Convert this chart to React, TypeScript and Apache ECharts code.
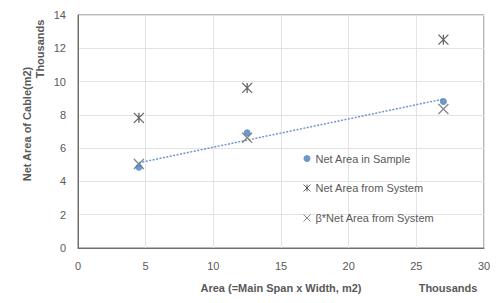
import React, { useEffect, useRef } from "react";
import * as echarts from "echarts";

const xCategories = [4.5, 12.5, 27];
const sampleValues = [4.85, 6.93, 8.8];
const systemValues = [7.82, 9.62, 12.52];
const betaValues = [5.05, 6.62, 8.35];
const trendX = [4.5, 27];
const trendY = [5.12, 8.95];
const xTicks = [0, 5, 10, 15, 20, 25, 30];
const yTicks = [0, 2, 4, 6, 8, 10, 12, 14];

const ASTERISK = "path://M0,0L10,10M10,0L0,10M5,0L5,10";
const CROSS = "path://M0,0L10,10M10,0L0,10";
const FONT = "Liberation Sans";

export default function App() {
  const ref = useRef<HTMLDivElement>(null);
  useEffect(() => {
    if (!ref.current) return;
    const chart = echarts.init(ref.current, undefined, { renderer: "svg" });
    const pair = (xs: number[], ys: number[]) => xs.map((x, i) => [x, ys[i]]);
    chart.setOption({
      animation: false,
      backgroundColor: "#ffffff",
      grid: {
        left: 78,
        right: 15,
        top: 15,
        bottom: 55,
        show: true,
        borderColor: "#6f6f6f",
        borderWidth: 1,
      },
      xAxis: {
        type: "value",
        min: xTicks[0],
        max: xTicks[xTicks.length - 1],
        interval: 5,
        axisLine: { show: true, lineStyle: { color: "#6f6f6f" } },
        axisTick: { show: false },
        axisLabel: { color: "#595959", fontFamily: FONT, fontSize: 11, margin: 12 },
        splitLine: { show: true, lineStyle: { color: "#e3e3e3" } },
      },
      yAxis: {
        type: "value",
        min: yTicks[0],
        max: yTicks[yTicks.length - 1],
        interval: 2,
        axisLine: { show: true, lineStyle: { color: "#6f6f6f" } },
        axisTick: { show: false },
        axisLabel: { color: "#595959", fontFamily: FONT, fontSize: 11, margin: 12 },
        splitLine: { show: true, lineStyle: { color: "#e3e3e3" } },
      },
      legend: {
        orient: "vertical",
        left: 296,
        top: 148,
        itemGap: 18,
        itemWidth: 7,
        itemHeight: 7,
        textStyle: { color: "#595959", fontFamily: FONT, fontSize: 11 },
        itemStyle: { borderWidth: 1 },
        data: ["Net Area in Sample", "Net Area from System", "β*Net Area from System"],
      },
      graphic: [
        {
          type: "text",
          x: 27,
          y: 124,
          rotation: Math.PI / 2,
          style: {
            text: "Net Area of Cable(m2)",
            fill: "#595959",
            font: `bold 11px "${FONT}"`,
            align: "center",
            verticalAlign: "middle",
          },
        },
        {
          type: "text",
          x: 40,
          y: 49,
          rotation: Math.PI / 2,
          style: {
            text: "Thousands",
            fill: "#595959",
            font: `bold 11px "${FONT}"`,
            align: "center",
            verticalAlign: "middle",
          },
        },
        {
          type: "text",
          x: 281,
          y: 288,
          style: {
            text: "Area (=Main Span x Width, m2)",
            fill: "#595959",
            font: `bold 11px "${FONT}"`,
            align: "center",
            verticalAlign: "middle",
          },
        },
        {
          type: "text",
          x: 448,
          y: 288,
          style: {
            text: "Thousands",
            fill: "#595959",
            font: `bold 11px "${FONT}"`,
            align: "center",
            verticalAlign: "middle",
          },
        },
      ],
      series: [
        {
          name: "trend",
          type: "line",
          data: pair(trendX, trendY),
          symbol: "none",
          lineStyle: { color: "#6f96cf", width: 1.5, type: [2, 1.5] },
          z: 1,
        },
        {
          name: "Net Area in Sample",
          type: "scatter",
          data: pair(xCategories, sampleValues),
          symbol: "circle",
          symbolSize: 7,
          itemStyle: { color: "#4a7ebb" },
          z: 3,
        },
        {
          name: "Net Area from System",
          type: "scatter",
          data: pair(xCategories, systemValues),
          symbol: ASTERISK,
          symbolSize: 10,
          itemStyle: { color: "none", borderColor: "#404040", borderWidth: 1.3 },
          z: 2,
        },
        {
          name: "β*Net Area from System",
          type: "scatter",
          data: pair(xCategories, betaValues),
          symbol: CROSS,
          symbolSize: 10,
          itemStyle: { color: "none", borderColor: "#6a6a6a", borderWidth: 1.3 },
          z: 2,
        },
      ],
    });
    return () => chart.dispose();
  }, []);
  return <div ref={ref} style={{ width: 499, height: 303, position: "absolute", left: 0, top: 0 }} />;
}
